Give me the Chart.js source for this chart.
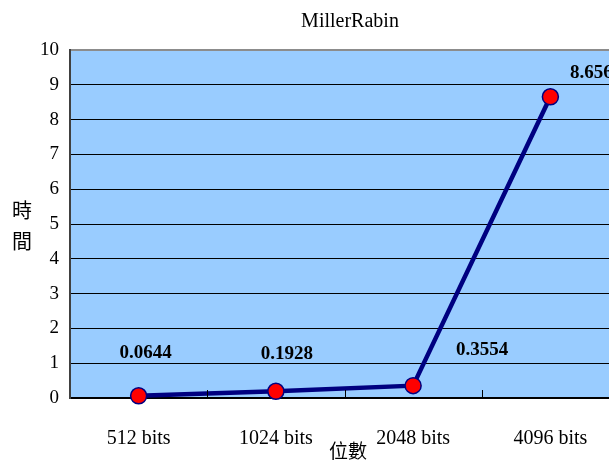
<!DOCTYPE html>
<html>
<head>
<meta charset="utf-8">
<title>MillerRabin</title>
<script src="https://cdn.jsdelivr.net/npm/chart.js@4"></script>
<style>
  html, body { margin: 0; padding: 0; background: #ffffff; overflow: hidden; }
  #wrap { width: 640px; height: 461px; }
  #chart { display: block; }
</style>
</head>
<body>
<div id="wrap"><canvas id="chart" width="619" height="461" style="width:619px;height:461px"></canvas></div>
<script>
// Key sizes (bits) and the measured run time for each
const categories = ['512 bits', '1024 bits', '2048 bits', '4096 bits'];
const times = [0.0644, 0.1928, 0.3554, 8.656];
const yTickValues = [0, 1, 2, 3, 4, 5, 6, 7, 8, 9, 10];

const chartTitle = 'MillerRabin';
const yTitle = ['時', '間'];
const xTitle = '位數';

const serif = '"Liberation Serif", "Times New Roman", serif';
const cjk = '"Noto Sans CJK TC", "Noto Sans CJK SC", sans-serif';

// Light blue plot background
const plotBackground = {
  id: 'plotBackground',
  beforeDraw(chart) {
    const { ctx, chartArea: a } = chart;
    ctx.save();
    ctx.fillStyle = '#99CCFF';
    ctx.fillRect(a.left, a.top, a.right - a.left, a.bottom - a.top);
    ctx.restore();
  }
};

// Small inward ticks between categories on the x axis
const innerTicks = {
  id: 'innerTicks',
  afterDraw(chart) {
    const { ctx, chartArea: a, scales: { x } } = chart;
    ctx.save();
    ctx.strokeStyle = '#000000';
    ctx.lineWidth = 1;
    for (let i = 1; i < categories.length; i++) {
      const px = Math.round((x.getPixelForValue(i - 1) + x.getPixelForValue(i)) / 2) + 0.5;
      ctx.beginPath();
      ctx.moveTo(px, a.bottom);
      ctx.lineTo(px, a.bottom - 8);
      ctx.stroke();
    }
    ctx.restore();
  }
};

// Chart title, axis titles and value labels
const textLayer = {
  id: 'textLayer',
  afterDraw(chart, args, opts) {
    const { ctx } = chart;
    ctx.save();
    ctx.fillStyle = '#000000';
    ctx.textAlign = 'center';
    ctx.textBaseline = 'middle';

    ctx.font = '20px ' + serif;
    ctx.fillText(chartTitle, 350, 22);

    ctx.font = '20px ' + cjk;
    yTitle.forEach((ch, i) => ctx.fillText(ch, 22, 210 + i * 31));

    ctx.font = '19px ' + cjk;
    ctx.fillText(xTitle, 348, 451);

    const meta = chart.getDatasetMeta(0);
    ctx.font = 'bold 19px ' + serif;
    meta.data.forEach((pt, i) => {
      const off = opts.offsets[i];
      ctx.fillText(String(times[i]), pt.x + off[0], pt.y + off[1]);
    });
    ctx.restore();
  }
};

new Chart(document.getElementById('chart'), {
  type: 'line',
  data: {
    labels: categories,
    datasets: [{
      data: times,
      borderColor: '#000080',
      borderWidth: 4.5,
      tension: 0,
      pointStyle: 'circle',
      pointRadius: 8,
      pointHoverRadius: 8,
      pointBackgroundColor: '#FF0000',
      pointBorderColor: '#000080',
      pointBorderWidth: 1.5,
      clip: false
    }]
  },
  options: {
    responsive: false,
    animation: false,
    events: [],
    layout: { autoPadding: false, padding: { top: 50, left: 0, right: 0, bottom: 0 } },
    plugins: {
      legend: { display: false },
      title: { display: false },
      tooltip: { enabled: false },
      textLayer: { offsets: [[7, -43], [11, -37], [69, -36], [41, -24]] }
    },
    scales: {
      x: {
        type: 'category',
        offset: true,
        afterFit(s) { s.height = 63; s.paddingLeft = 0; s.paddingRight = 0; },
        grid: { display: false, drawTicks: false },
        border: { display: true, color: '#000000', width: 1.5 },
        ticks: {
          padding: 29,
          color: '#000000',
          maxRotation: 0,
          font: { family: serif, size: 20 }
        }
      },
      y: {
        min: 0,
        max: 10,
        afterFit(s) { s.width = 70; },
        afterBuildTicks(s) { s.ticks = yTickValues.map(v => ({ value: v })); },
        grid: {
          drawTicks: false,
          color: ctx => (ctx.tick && ctx.tick.value === 10 ? '#8c8c8c' : '#000000'),
          lineWidth: ctx => (ctx.tick && ctx.tick.value === 10 ? 2 : 1)
        },
        border: { display: true, color: '#404040', width: 2 },
        ticks: {
          padding: 11,
          color: '#000000',
          font: { family: serif, size: 19 }
        }
      }
    }
  },
  plugins: [plotBackground, innerTicks, textLayer]
});
</script>
</body>
</html>
